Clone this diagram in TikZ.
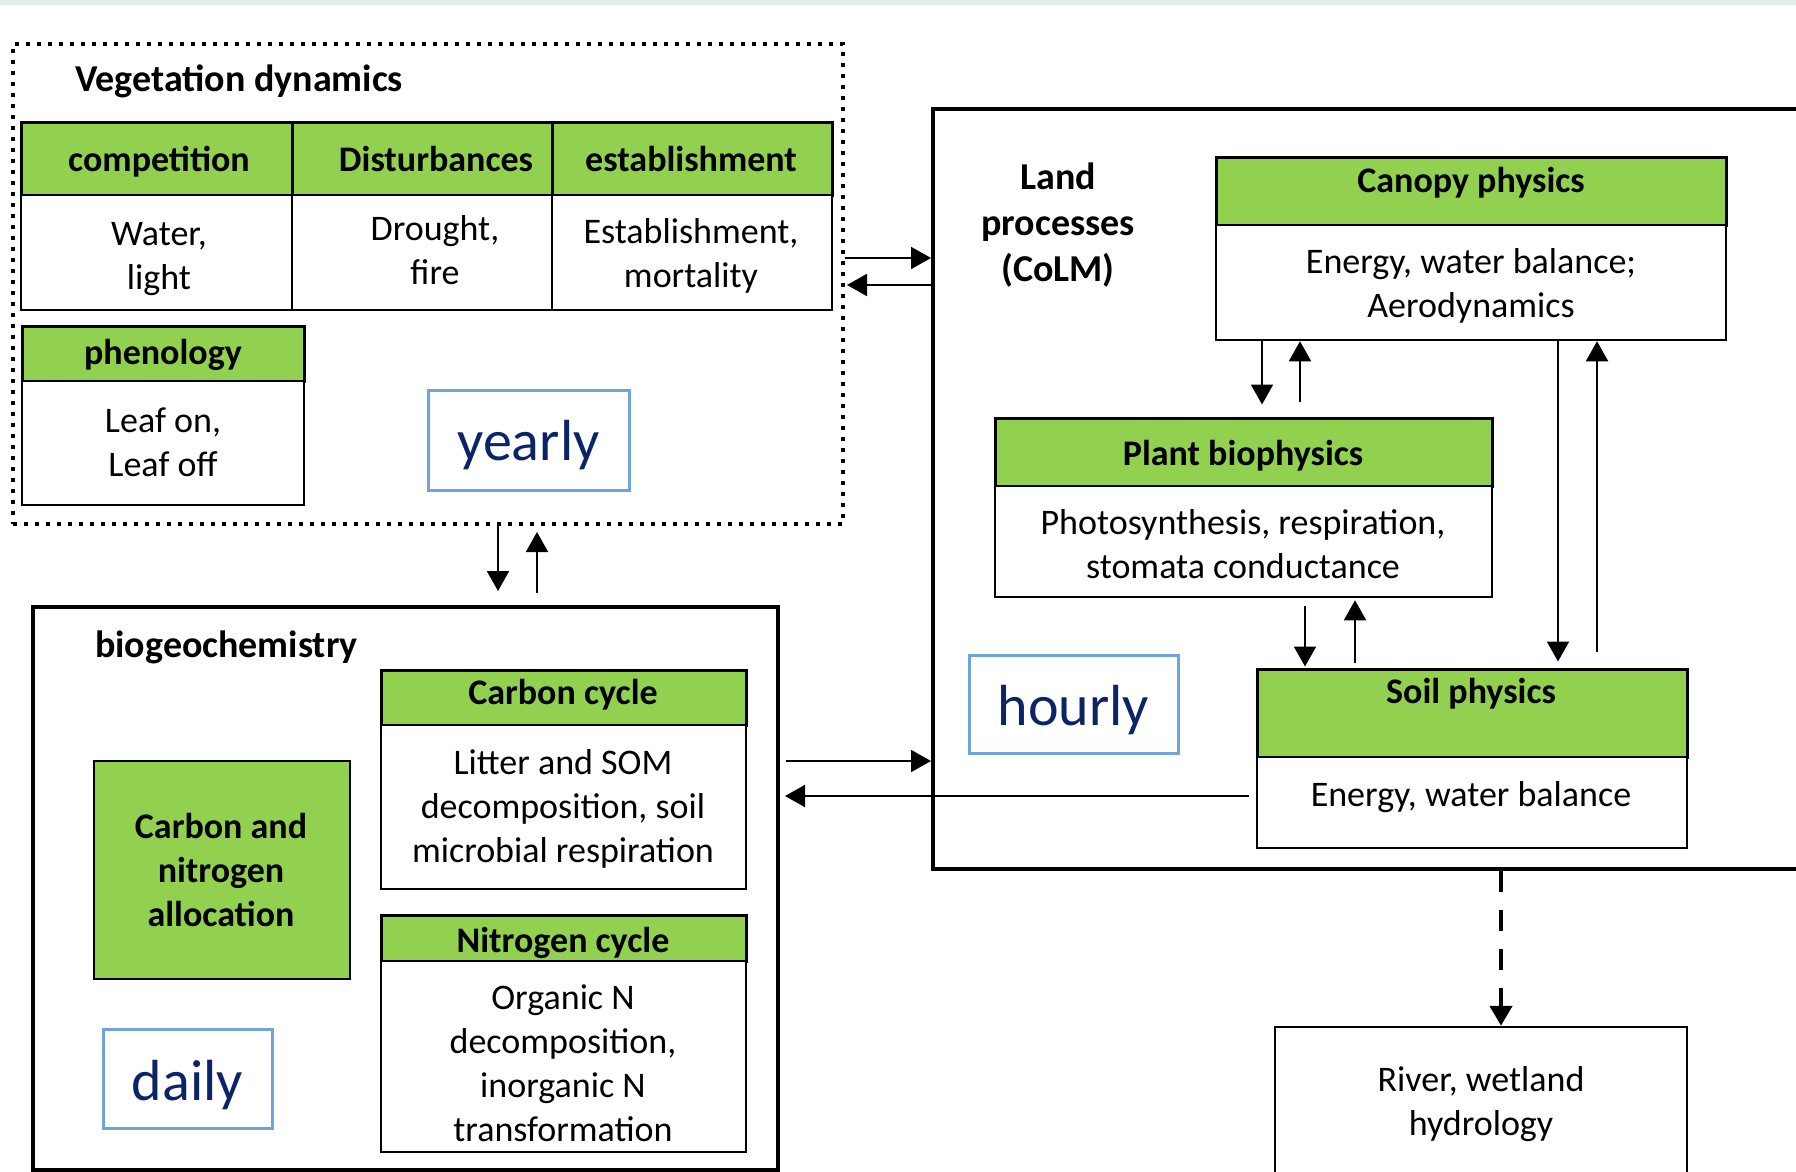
\documentclass[tikz,border=0pt]{standalone}
\usepackage{fontspec}
\setmainfont{Carlito}
\usetikzlibrary{arrows.meta}
\definecolor{headgreen}{HTML}{92D050}
\definecolor{timeblue}{HTML}{6FA3DC}
\definecolor{timetext}{HTML}{0B2468}
\definecolor{stripgreen}{HTML}{E6EFE7}
\tikzset{
  greenhead/.style={draw, fill=headgreen, line width=3pt, inner sep=0pt},
  whitebody/.style={draw, fill=white, line width=2.5pt, inner sep=0pt},
  timebox/.style={draw=timeblue, line width=3pt, inner sep=0pt},
  titletext/.style={font=\bfseries\fontsize{38}{46}\selectfont, inner sep=0pt},
  headtext/.style={font=\bfseries\fontsize{36}{44}\selectfont, align=center, anchor=base, inner sep=0pt},
  bodytext/.style={font=\fontsize{36}{44}\selectfont, align=center, anchor=base, inner sep=0pt},
  timetxt/.style={font=\fontsize{58}{70}\selectfont, text=timetext, anchor=base, inner sep=0pt},
  arr/.style={line width=2pt, -{Triangle[width=22pt,length=20pt]}},
}
\begin{document}
\begin{tikzpicture}[x=1pt,y=-1pt]
                \clip (0,0) rectangle (1796,1172);
                \fill [white] (0,0) rectangle (1796,1172);
                \fill [stripgreen] (0,0) rectangle (1796,5);

                % Drawing box Vegetation dynamics
                \node (veg) at (428,284) [draw, line width=4pt, dash pattern=on 4pt off 7pt,
                  minimum width=830pt, minimum height=480pt] {};
                \node (vegtitle) at (75,92) [titletext, anchor=base west] {Vegetation dynamics};

                % Drawing table competition / Disturbances / establishment
                \node (comphead) at (156.5,158.5) [greenhead, minimum width=271pt, minimum height=73pt] {};
                \node (disthead) at (422,158.5) [greenhead, minimum width=260pt, minimum height=73pt] {};
                \node (esthead) at (692,158.5) [greenhead, minimum width=280pt, minimum height=73pt] {};
                \node (compbody) at (156.5,252.5) [whitebody, minimum width=271pt, minimum height=115pt] {};
                \node (distbody) at (422,252.5) [whitebody, minimum width=260pt, minimum height=115pt] {};
                \node (estbody) at (692,252.5) [whitebody, minimum width=280pt, minimum height=115pt] {};
                \node (comptxt) at (159,171) [headtext] {competition};
                \node (disttxt) at (436,171) [headtext] {Disturbances};
                \node (esttxt) at (691,171) [headtext] {establishment};
                % (base of a two-line text = its last line)
                \node (compbodytxt) at (159,289) [bodytext] {Water,\\light};
                \node (distbodytxt) at (435,284) [bodytext] {Drought,\\fire};
                \node (estbodytxt) at (691,287) [bodytext] {Establishment,\\mortality};

                % Drawing box phenology
                \node (phenhead) at (163,353.5) [greenhead, minimum width=282pt, minimum height=55pt] {};
                \node (phenbody) at (163,443) [whitebody, minimum width=282pt, minimum height=124pt] {};
                \node (phentxt) at (163,364) [headtext] {phenology};
                \node (phenbodytxt) at (163,476) [bodytext] {Leaf on,\\Leaf off};

                % Marking yearly
                \node (yearly) at (528.5,440) [timebox, minimum width=201pt, minimum height=100pt] {};
                \node (yearlytxt) at (528.5,460) [timetxt] {yearly};

                % Drawing box Land processes (CoLM)
                \node (land) at (1381.5,489) [draw, line width=4pt, minimum width=897pt, minimum height=760pt] {};
                \node (landtxt) at (1058,281) [titletext, align=center, anchor=base] {Land\\processes\\(CoLM)};

                % Drawing box Canopy physics
                \node (canopyhead) at (1471,191) [greenhead, minimum width=510pt, minimum height=68pt] {};
                \node (canopybody) at (1471,282.5) [whitebody, minimum width=510pt, minimum height=115pt] {};
                \node (canopytxt) at (1471,192) [headtext] {Canopy physics};
                \node (canopybodytxt) at (1471,317) [bodytext] {Energy, water balance;\\Aerodynamics};

                % Drawing box Plant biophysics
                \node (planthead) at (1243.5,452) [greenhead, minimum width=497pt, minimum height=68pt] {};
                \node (plantbody) at (1243.5,541.5) [whitebody, minimum width=497pt, minimum height=111pt] {};
                \node (planttxt) at (1243,465) [headtext] {Plant biophysics};
                \node (plantbodytxt) at (1243,578) [bodytext] {Photosynthesis, respiration,\\stomata conductance};

                % Drawing box Soil physics
                \node (soilhead) at (1472,713) [greenhead, minimum width=430pt, minimum height=88pt] {};
                \node (soilbody) at (1472,802.5) [whitebody, minimum width=430pt, minimum height=91pt] {};
                \node (soiltxt) at (1471,703) [headtext] {Soil physics};
                \node (soilbodytxt) at (1471,806) [bodytext] {Energy, water balance};

                % Marking hourly
                \node (hourly) at (1073.5,704) [timebox, minimum width=209pt, minimum height=98pt] {};
                \node (hourlytxt) at (1073.5,725) [timetxt] {hourly};

                % Drawing box River, wetland hydrology
                \node (river) at (1481,1105) [whitebody, minimum width=412pt, minimum height=156pt] {};
                \node (rivertxt) at (1481,1135) [bodytext] {River, wetland\\hydrology};

                % Drawing box biogeochemistry
                \node (bio) at (405.5,888.5) [draw, line width=4pt, minimum width=745pt, minimum height=563pt] {};
                \node (biotitle) at (95,657) [titletext, anchor=base west] {biogeochemistry};

                % Drawing box Carbon cycle
                \node (carbonhead) at (563.5,697.5) [greenhead, minimum width=365pt, minimum height=55pt] {};
                \node (carbonbody) at (563.5,807) [whitebody, minimum width=365pt, minimum height=164pt] {};
                \node (carbontxt) at (563,704) [headtext] {Carbon cycle};
                \node (carbonbodytxt) at (563,862) [bodytext] {Litter and SOM\\decomposition, soil\\microbial respiration};

                % Drawing box Nitrogen cycle
                \node (nitrohead) at (563.5,938) [greenhead, minimum width=365pt, minimum height=46pt] {};
                \node (nitrobody) at (563.5,1056.5) [whitebody, minimum width=365pt, minimum height=191pt] {};
                \node (nitrotxt) at (563,952) [headtext] {Nitrogen cycle};
                \node (nitrobodytxt) at (563,1141) [bodytext] {Organic N\\decomposition,\\inorganic N\\transformation};

                % Drawing box Carbon and nitrogen allocation
                \node (alloc) at (222,870) [greenhead, line width=2.5pt, minimum width=256pt, minimum height=218pt] {};
                \node (alloctxt) at (221,926) [headtext] {Carbon and\\nitrogen\\allocation};

                % Marking daily
                \node (daily) at (187.5,1078.5) [timebox, minimum width=169pt, minimum height=99pt] {};
                \node (dailytxt) at (187.5,1100) [timetxt] {daily};

                % Drawing arrows Vegetation dynamics <-> Land processes
                \draw [arr] (veg.east |- 0,258) -- (land.west |- 0,258);
                \draw [arr, shorten >=2pt] (land.west |- 0,285) -- (veg.east |- 0,285);

                % Drawing arrows Vegetation dynamics <-> biogeochemistry
                \draw [arr, shorten >=14pt] (veg.south -| 498,0) -- (bio.north -| 498,0);
                \draw [arr, shorten <=12pt, shorten >=6pt] (bio.north -| 537,0) -- (veg.south -| 537,0);

                % Drawing arrows Canopy physics <-> Plant biophysics
                \draw [arr, shorten >=12pt] (canopybody.south -| 1262,0) -- (planthead.north -| 1262,0);
                \draw [arr, shorten <=15pt] (planthead.north -| 1300,0) -- (canopybody.south -| 1300,0);

                % Drawing arrows Plant biophysics <-> Soil physics
                \draw [arr, shorten <=8pt, shorten >=1pt] (plantbody.south -| 1305,0) -- (soilhead.north -| 1305,0);
                \draw [arr, shorten <=5pt, shorten >=2pt] (soilhead.north -| 1355,0) -- (plantbody.south -| 1355,0);

                % Drawing arrows Canopy physics <-> Soil physics
                \draw [arr, shorten >=6pt] (canopybody.south -| 1558,0) -- (soilhead.north -| 1558,0);
                \draw [arr, shorten <=16pt] (soilhead.north -| 1597,0) -- (canopybody.south -| 1597,0);

                % Drawing arrows biogeochemistry <-> Soil physics
                \draw [arr, shorten <=6pt] (bio.east |- 0,761) -- (land.west |- 0,761);
                \draw [arr, shorten <=7pt, shorten >=5pt] (soilbody.west |- 0,796) -- (bio.east |- 0,796);

                % Drawing dashed arrow to River, wetland hydrology
                \draw [line width=4.5pt, dash pattern=on 21pt off 18pt, -{Triangle[width=22pt,length=20pt]}]
                  (land.south -| 1501,0) -- (river.north -| 1501,0);
\end{tikzpicture}
\end{document}
